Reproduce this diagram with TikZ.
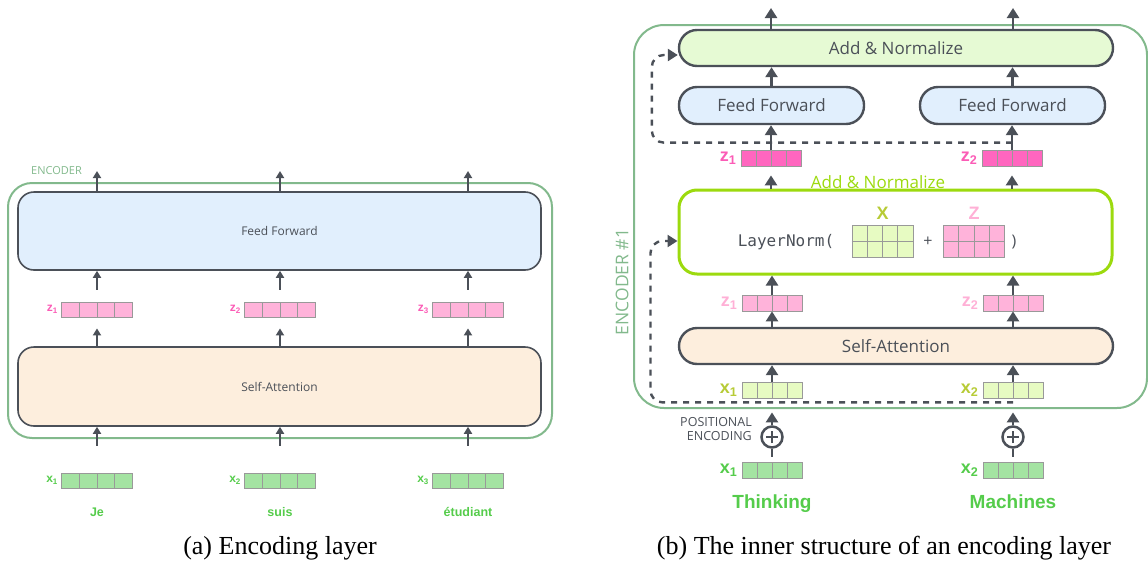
\documentclass[tikz,border=0pt]{standalone}
\usepackage{fontspec}
\setmainfont{Open Sans}
\newfontfamily\wordfont{Liberation Sans}
\newfontfamily\capfont{Liberation Serif}
\newfontfamily\codefont{DejaVu Sans Mono}
\usetikzlibrary{arrows.meta,calc,positioning}

\definecolor{inkgray}{HTML}{4B5058}
\definecolor{encgreen}{HTML}{82B98C}
\definecolor{ffblue}{HTML}{E1EFFD}
\definecolor{sapeach}{HTML}{FDEEDD}
\definecolor{anfill}{HTML}{E6FAD4}
\definecolor{limegreen}{HTML}{9CDA0E}
\definecolor{zdeep}{HTML}{FF66BF}
\definecolor{zdeeptext}{HTML}{FB5CB6}
\definecolor{zpink}{HTML}{FFB3DA}
\definecolor{zpinktext}{HTML}{FFB0D6}
\definecolor{xlime}{HTML}{E7FBC2}
\definecolor{xlimetext}{HTML}{B7CB36}
\definecolor{xgreen}{HTML}{A4E3A2}
\definecolor{wordgreen}{HTML}{55CC4B}
\definecolor{cellgray}{HTML}{999999}

\newcommand{\fsz}[1]{\fontsize{#1}{#1}\selectfont}

\begin{document}
\begin{tikzpicture}[x=1pt, y=-1pt,
  lflow/.style={draw=inkgray, line width=1.8pt, -{Triangle[length=7pt, width=8pt]}},
  rflow/.style={draw=inkgray, line width=2.6pt, -{Triangle[length=10pt, width=12pt]}},
  skip/.style={draw=inkgray, line width=2.4pt, dash pattern=on 6pt off 6pt,
    rounded corners=12pt, -{Triangle[length=10pt, width=12pt]}},
  encframe/.style={draw=encgreen, line width=2pt, rounded corners=#1, inner sep=0pt},
  lblock/.style={draw=inkgray, line width=1.6pt, rounded corners=16pt, inner sep=0pt,
    text=inkgray, font=\fsz{12pt}},
  rblock/.style={draw=inkgray, line width=2.4pt, rounded corners=18pt, inner sep=0pt,
    text=inkgray, font=\fsz{17pt}},
  cellgrid/.style={path picture={
    \foreach \k in {1,2,3}
      \draw[cellgray, line width=0.8pt]
        ($(path picture bounding box.north west)!\k/4!(path picture bounding box.north east)$) --
        ($(path picture bounding box.south west)!\k/4!(path picture bounding box.south east)$);}},
  lvec/.style={cellgrid, draw=cellgray, line width=0.8pt, inner sep=0pt,
    minimum width=71pt, minimum height=15pt},
  rvec/.style={cellgrid, draw=cellgray, line width=0.8pt, inner sep=0pt,
    minimum width=60pt, minimum height=16pt},
  rmat/.style={rvec, minimum width=61pt, minimum height=32pt},
  lzlab/.style={text=zdeeptext, font=\wordfont\bfseries\fsz{12pt}, inner sep=0pt},
  lxlab/.style={text=wordgreen, font=\wordfont\bfseries\fsz{12pt}, inner sep=0pt},
  rlab/.style={font=\wordfont\bfseries\fsz{18pt}, inner sep=0pt},
  lword/.style={text=wordgreen, font=\wordfont\bfseries\fsz{12.5pt}, inner sep=0pt, anchor=base},
  rword/.style={text=wordgreen, font=\wordfont\bfseries\fsz{19pt}, inner sep=0pt, anchor=base},
  addop/.style={circle, draw=inkgray, line width=2.5pt, minimum size=21pt, inner sep=0pt,
    path picture={
      \draw[inkgray, line width=2.5pt] ([xshift=-6pt]path picture bounding box.center) -- ([xshift=6pt]path picture bounding box.center);
      \draw[inkgray, line width=2.5pt] ([yshift=-6pt]path picture bounding box.center) -- ([yshift=6pt]path picture bounding box.center);}}]
\useasboundingbox (0,0) rectangle (1148,565);

% (a) encoding layer
\node[encframe=24pt, minimum width=544pt, minimum height=255pt] (lenc) at (280,310.5) {};
\node[text=encgreen, font=\fsz{11pt}, anchor=west, inner sep=0pt] (lenctitle) at (31,171) {ENCODER};
\node[lblock, fill=ffblue, minimum width=523pt, minimum height=78pt] (lff) at (279.5,231) {Feed Forward};
\node[lblock, fill=sapeach, minimum width=523pt, minimum height=79pt] (lsa) at (279.5,386.5) {Self-Attention};

\node[lvec, fill=zpink] (lz1) at (97,309.5) {};
\node[lvec, fill=zpink] (lz2) at (280,309.5) {};
\node[lvec, fill=zpink] (lz3) at (468,309.5) {};
\node[lzlab, left=3pt of lz1] (lz1lab) {z\textsubscript{1}};
\node[lzlab, left=3pt of lz2] (lz2lab) {z\textsubscript{2}};
\node[lzlab, left=3pt of lz3] (lz3lab) {z\textsubscript{3}};

\node[lvec, fill=xgreen] (lx1) at (97,480.5) {};
\node[lvec, fill=xgreen] (lx2) at (280,480.5) {};
\node[lvec, fill=xgreen] (lx3) at (468,480.5) {};
\node[lxlab, left=3pt of lx1] (lx1lab) {x\textsubscript{1}};
\node[lxlab, left=3pt of lx2] (lx2lab) {x\textsubscript{2}};
\node[lxlab, left=3pt of lx3] (lx3lab) {x\textsubscript{3}};

\node[lword] (lw1) at (97,516) {Je};
\node[lword] (lw2) at (280,516) {suis};
\node[lword] (lw3) at (468,516) {étudiant};

\coordinate (lout1) at (97,171);
\coordinate (lout2) at (280,171);
\coordinate (lout3) at (468,171);
\draw[lflow] (lff.north -| lout1) -- (lout1);
\draw[lflow] (lff.north -| lout2) -- (lout2);
\draw[lflow] (lff.north -| lout3) -- (lout3);
\draw[lflow, shorten <=12pt] (lz1.north) -- (lz1.north |- lff.south);
\draw[lflow, shorten <=12pt] (lz2.north) -- (lz2.north |- lff.south);
\draw[lflow, shorten <=12pt] (lz3.north) -- (lz3.north |- lff.south);
\draw[lflow, shorten >=11pt] (lz1.south |- lsa.north) -- (lz1.south);
\draw[lflow, shorten >=11pt] (lz2.south |- lsa.north) -- (lz2.south);
\draw[lflow, shorten >=11pt] (lz3.south |- lsa.north) -- (lz3.south);
\draw[lflow, shorten <=27pt] (lx1.north) -- (lx1.north |- lsa.south);
\draw[lflow, shorten <=27pt] (lx2.north) -- (lx2.north |- lsa.south);
\draw[lflow, shorten <=27pt] (lx3.north) -- (lx3.north |- lsa.south);

% (b) inner structure
\node[encframe=30pt, minimum width=513pt, minimum height=383pt] (renc) at (890.5,216.5) {};
\node[rotate=90, text=encgreen, font=\fsz{17.5pt}, inner sep=0pt] (renctitle) at (622,282) {ENCODER \#1};

\node[rblock, fill=anfill, minimum width=434pt, minimum height=36pt] (ran) at (896,48) {Add \& Normalize};
\node[rblock, fill=ffblue, minimum width=185pt, minimum height=37pt] (rff1) at (771.5,105.5) {Feed Forward};
\node[rblock, fill=ffblue, minimum width=185pt, minimum height=37pt] (rff2) at (1012.5,105.5) {Feed Forward};

\node[rvec, fill=zdeep] (rzt1) at (771,158) {};
\node[rvec, fill=zdeep] (rzt2) at (1012,158) {};
\node[rlab, text=zdeeptext, left=4pt of rzt1] (rzt1lab) {z\textsubscript{1}};
\node[rlab, text=zdeeptext, left=4pt of rzt2] (rzt2lab) {z\textsubscript{2}};

\node[text=limegreen, font=\fsz{17pt}, inner sep=0pt] (rantitle) at (878,182) {Add \& Normalize};
\node[draw=limegreen, line width=3pt, fill=white, rounded corners=18pt,
  minimum width=433pt, minimum height=84pt, inner sep=0pt] (rln) at (895.5,232) {};
\node[text=inkgray, font=\codefont\fsz{16pt}, inner sep=0pt] (rlnword) at (786,242) {LayerNorm(};
\node[rmat, fill=xlime] (rlnx) at (882.5,241) {};
\node[rmat, fill=zpink] (rlnz) at (974,241) {};
\draw[cellgray, line width=0.8pt] (rlnx.west) -- (rlnx.east);
\draw[cellgray, line width=0.8pt] (rlnz.west) -- (rlnz.east);
\node[rlab, text=xlimetext, above=5pt of rlnx] (rlnxlab) {X};
\node[rlab, text=zpinktext, above=5pt of rlnz] (rlnzlab) {Z};
\node[text=inkgray, font=\fsz{16pt}, inner sep=0pt] (rplus) at (928,242) {+};
\node[text=inkgray, font=\fsz{16pt}, inner sep=0pt] (rclose) at (1014,242) {)};

\node[rvec, fill=zpink] (rz1) at (772,303) {};
\node[rvec, fill=zpink] (rz2) at (1013,303) {};
\node[rlab, text=zpinktext, left=4pt of rz1] (rz1lab) {z\textsubscript{1}};
\node[rlab, text=zpinktext, left=4pt of rz2] (rz2lab) {z\textsubscript{2}};

\node[rblock, fill=sapeach, minimum width=434pt, minimum height=36pt] (rsa) at (896,346) {Self-Attention};

\node[rvec, fill=xlime] (rx1) at (772,390) {};
\node[rvec, fill=xlime] (rx2) at (1013,390) {};
\node[rlab, text=xlimetext, left=4pt of rx1] (rx1lab) {x\textsubscript{1}};
\node[rlab, text=xlimetext, left=4pt of rx2] (rx2lab) {x\textsubscript{2}};

\node[addop] (rpe1) at (772,437) {};
\node[addop] (rpe2) at (1013,437) {};
\node[text=inkgray, font=\fontsize{12.5pt}{13.5pt}\selectfont, align=right, anchor=east, inner sep=0pt] (rpelab) at (752,429) {POSITIONAL\\ENCODING};

\node[rvec, fill=xgreen] (rxe1) at (772,470) {};
\node[rvec, fill=xgreen] (rxe2) at (1013,470) {};
\node[rlab, text=wordgreen, left=4pt of rxe1] (rxe1lab) {x\textsubscript{1}};
\node[rlab, text=wordgreen, left=4pt of rxe2] (rxe2lab) {x\textsubscript{2}};
\node[rword] (rw1) at (772,508) {Thinking};
\node[rword] (rw2) at (1013,508) {Machines};

\coordinate (rout1) at (771,8);
\coordinate (rout2) at (1013,8);
\draw[rflow] (ran.north -| rout1) -- (rout1);
\draw[rflow] (ran.north -| rout2) -- (rout2);
\draw[rflow] (rff1.north) -- (rff1.north |- ran.south);
\draw[rflow] (rff2.north) -- (rff2.north |- ran.south);
\draw[rflow] (rzt1.north) -- (rzt1.north |- rff1.south);
\draw[rflow] (rzt2.north) -- (rzt2.north |- rff2.south);
\draw[rflow, shorten >=9pt] (rzt1.south |- rln.north) -- (rzt1.south);
\draw[rflow, shorten >=9pt] (rzt2.south |- rln.north) -- (rzt2.south);
\draw[rflow] (rz1.north) -- (rz1.north |- rln.south);
\draw[rflow] (rz2.north) -- (rz2.north |- rln.south);
\draw[rflow] (rz1.south |- rsa.north) -- (rz1.south);
\draw[rflow] (rz2.south |- rsa.north) -- (rz2.south);
\draw[rflow] (rx1.north) -- (rx1.north |- rsa.south);
\draw[rflow] (rx2.north) -- (rx2.north |- rsa.south);
\draw[rflow, shorten >=14pt] (rpe1.north) -- (rx1.south);
\draw[rflow, shorten >=14pt] (rpe2.north) -- (rx2.south);
\draw[inkgray, line width=2.6pt, shorten >=5pt] (rpe1.south) -- (rxe1.north);
\draw[inkgray, line width=2.6pt, shorten >=5pt] (rpe2.south) -- (rxe2.north);

% residual connections
\coordinate (rskip1) at ([yshift=7pt]rzt2.north);
\coordinate (rskip2) at ([yshift=-4pt]rx2.south);
\draw[skip] (rskip1) -| ([xshift=-26pt, yshift=-7pt]ran.west) -- ([yshift=-7pt]ran.west);
\draw[skip] (rskip2) -| ([xshift=-27pt, yshift=-9pt]rln.west) -- ([yshift=-9pt]rln.west);

% captions
\node[font=\capfont\fsz{26pt}, anchor=base, inner sep=0pt] (capa) at (280,554) {(a) Encoding layer};
\node[font=\capfont\fsz{26pt}, anchor=base, inner sep=0pt] (capb) at (884,554) {(b) The inner structure of an encoding layer};
\end{tikzpicture}
\end{document}
